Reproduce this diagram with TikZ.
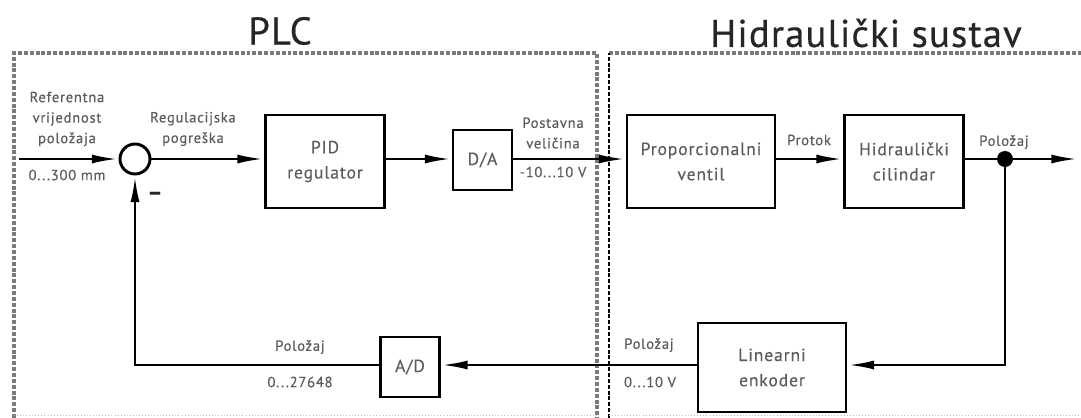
\documentclass[tikz,border=0pt]{standalone}
\usepackage{fontspec}
\setmainfont[LetterSpace=5,FakeBold=0.35]{PT Sans}
\newfontfamily\titlefont[LetterSpace=3,FakeBold=0.5]{PT Sans}
\usetikzlibrary{arrows.meta}
\definecolor{labelgray}{gray}{0.36}
\definecolor{framegray}{gray}{0.48}
\begin{document}
\begin{tikzpicture}[x=0.03cm, y=-0.03cm,
    flow/.style={-{Latex[length=0.8cm, width=0.27cm]}, line width=2.4pt},
    plainline/.style={line width=2.4pt}]
    \tikzset{bloc/.style={rectangle, draw=black, line width=2.5pt, inner sep=0pt, align=center, text=labelgray, font=\fontsize{15}{21.5}\selectfont},
        natpis/.style={inner sep=0pt, align=center, text=labelgray, font=\fontsize{12.5}{17.5}\selectfont},
        naslov/.style={inner sep=0pt, text=black!85, font=\titlefont\fontsize{33}{36}\selectfont},
        okvir/.style={line width=2.6pt, dash pattern=on 3.4pt off 1.6pt}};
    \useasboundingbox (0, 0) rectangle (1081, 418);

    \node[naslov] (plc) at (280, 31) {PLC};
    \node[naslov] (hidr) at (866, 33) {Hidraulički sustav};

    \draw[okvir, framegray] (14, 418) -- (14, 53) -- (597, 53) -- (597, 418);
    \draw[okvir, framegray] (609, 53) -- (1081, 53);
    \draw[okvir, line width=2pt, black] (609, 418) -- (609, 53);
    \draw[line width=0.6pt, black!25, dotted] (14, 415) -- (597, 415);
    \draw[line width=0.6pt, black!25, dotted] (609, 415) -- (1081, 415);

    \node[circle, draw=black, line width=2.5pt, minimum size=0.9cm, inner sep=0pt] (suma) at (135, 159) {};
    \node[bloc, minimum width=3.57cm, minimum height=2.79cm] (pid) at (325, 161.5) {PID\\regulator};
    \node[bloc, minimum width=1.77cm, minimum height=1.8cm] (da) at (482.5, 160) {D/A};
    \node[bloc, minimum width=4.44cm, minimum height=2.79cm] (ventil) at (701, 161.5) {Proporcionalni\\ventil};
    \node[bloc, minimum width=3.57cm, minimum height=2.79cm] (cilindar) at (904, 161.5) {Hidraulički\\cilindar};
    \node[bloc, minimum width=4.44cm, minimum height=2.67cm] (enkoder) at (772, 367.5) {Linearni\\enkoder};
    \node[bloc, minimum width=1.77cm, minimum height=1.8cm] (ad) at (410, 367) {A/D};
    \node[circle, fill=black, minimum size=0.48cm, inner sep=0pt] (cvor) at (1005, 159) {};

    \coordinate (ulaz) at (19, 159);
    \coordinate (izlaz) at (1078, 159);
    \coordinate (kut) at (135, 365);

    % direct path
    \draw[flow] (ulaz) -- (suma.west);
    \draw[flow] (suma.east) -- (suma.east -| pid.west);
    \draw[flow] (suma.east -| pid.east) -- (suma.east -| da.west);
    \draw[flow] (suma.east -| da.east) -- (suma.east -| ventil.west);
    \draw[flow] (suma.east -| ventil.east) -- (suma.east -| cilindar.west);
    \draw[plainline] (suma.east -| cilindar.east) -- (cvor);
    \draw[flow] (cvor) -- (izlaz);

    % feedback
    \draw[flow] (cvor) |- (kut -| enkoder.east);
    \draw[flow] (kut -| enkoder.west) -- (kut -| ad.east);
    \draw[flow] (kut -| ad.west) -- (kut) -- (suma.south);

    \node[natpis] (ref) at (67, 119) {Referentna\\vrijednost\\položaja};
    \node[natpis] (opseg) at (67, 175) {0...300 mm};
    \node[natpis] (greska) at (193, 129) {Regulacijska\\pogreška};
    \node[natpis] (post) at (553, 133) {Postavna\\veličina};
    \node[natpis] (napon) at (553, 172) {-10...10 V};
    \node[natpis] (protok) at (809, 140) {Protok};
    \node[natpis] (poloz) at (1004, 142) {Položaj};
    \node[natpis] (polozd) at (300, 347) {Položaj};
    \node[natpis] (bitovi) at (300, 382) {0...27648};
    \node[natpis] (polozv) at (649, 345) {Položaj};
    \node[natpis] (voltaza) at (650, 382) {0...10 V};
    \node[inner sep=0pt, font=\bfseries\fontsize{20}{20}\selectfont, text=black!85] (minus) at (155, 196) {--};
\end{tikzpicture}
\end{document}
